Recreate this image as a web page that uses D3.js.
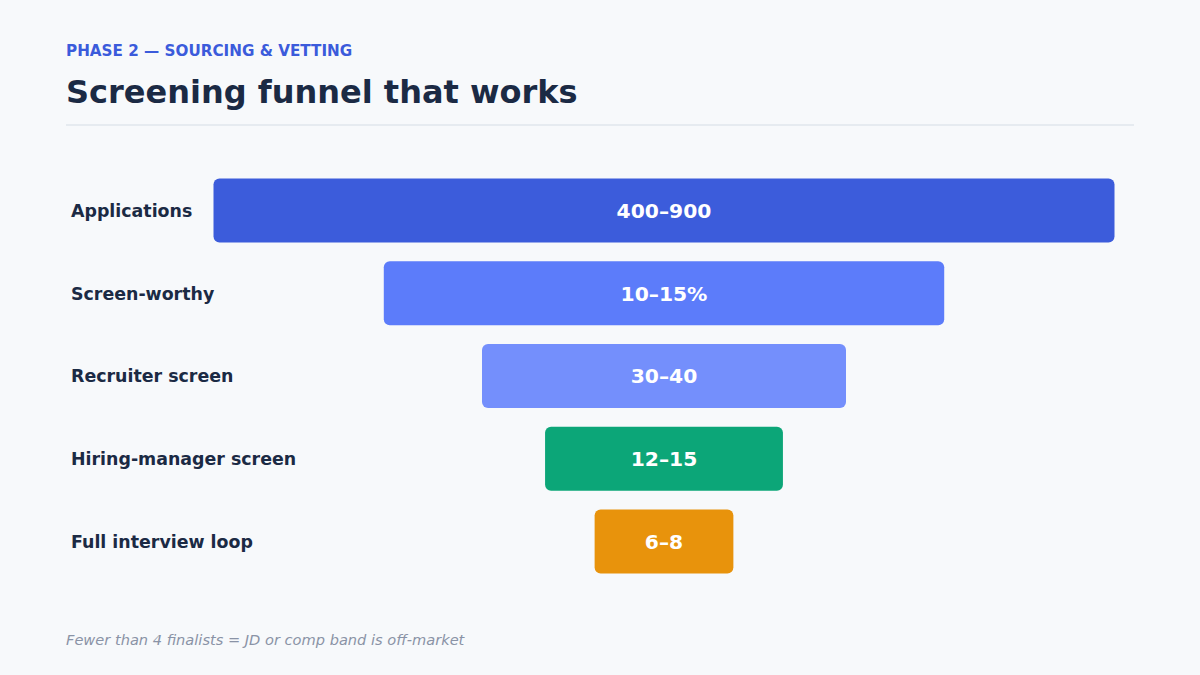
<!DOCTYPE html>
<html lang="en">
<head>
    <meta charset="utf-8">
    <title>Screening funnel that works</title>
    <script src="https://d3js.org/d3.v7.min.js"></script>
    <style>
        html, body { margin: 0; padding: 0; background: #f7f9fb; }
        svg { display: block; font-family: "DejaVu Sans", sans-serif; }
        .kicker { font-size: 15.2px; font-weight: bold; fill: #3b5bdb; }
        .title { font-size: 32px; font-weight: bold; fill: #1b2a44; }
        .stage { font-size: 17.4px; font-weight: bold; fill: #1b2a44; }
        .value { font-size: 20.3px; font-weight: bold; fill: #ffffff; text-anchor: middle; }
        .note { font-size: 14.6px; font-style: italic; fill: #8a93a6; }
    </style>
</head>
<body>
<div id="chart"></div>
<script>
    // Funnel stages, top to bottom
    var stages = ["Applications", "Screen-worthy", "Recruiter screen", "Hiring-manager screen", "Full interview loop"];
    // Displayed ranges on each bar
    var valueLabels = ["400–900", "10–15%", "30–40", "12–15", "6–8"];
    // Relative bar widths (widest = 100)
    var widths = [100, 62.2, 40.4, 26.4, 15.4];
    var colors = ["#3c5cdb", "#5c7cfa", "#748ffc", "#0ca678", "#e8930c"];

    var w = 1200, h = 675;

    var svg = d3.select("#chart").append("svg")
        .attr("width", w)
        .attr("height", h);

    svg.append("rect").attr("width", w).attr("height", h).attr("fill", "#f7f9fb");

    // Header
    svg.append("text").attr("class", "kicker").attr("x", 66).attr("y", 56)
        .text("PHASE 2 — SOURCING & VETTING");
    svg.append("text").attr("class", "title").attr("x", 66).attr("y", 103)
        .text("Screening funnel that works");
    svg.append("line")
        .attr("x1", 66).attr("x2", 1134).attr("y1", 125).attr("y2", 125)
        .attr("stroke", "#e1e6ec").attr("stroke-width", 1.5);

    // Scales: bars are centred on one axis
    var cx = 664;
    var x = d3.scaleLinear().domain([0, 100]).range([0, 901]);
    var y = d3.scaleBand().domain(stages).range([178.5, 573.5]).paddingInner(0.2266);

    var rows = svg.selectAll("g.row")
        .data(stages)
        .enter()
        .append("g")
        .attr("class", "row");

    rows.append("rect")
        .attr("x", function (d, i) { return cx - x(widths[i]) / 2; })
        .attr("y", function (d) { return y(d); })
        .attr("width", function (d, i) { return x(widths[i]); })
        .attr("height", y.bandwidth())
        .attr("rx", 6)
        .attr("fill", function (d, i) { return colors[i]; });

    rows.append("text")
        .attr("class", "value")
        .attr("x", cx)
        .attr("y", function (d) { return y(d) + y.bandwidth() / 2; })
        .attr("dy", "0.36em")
        .text(function (d, i) { return valueLabels[i]; });

    rows.append("text")
        .attr("class", "stage")
        .attr("x", 71)
        .attr("y", function (d) { return y(d) + y.bandwidth() / 2; })
        .attr("dy", "0.36em")
        .text(function (d) { return d; });

    // Footnote
    svg.append("text").attr("class", "note").attr("x", 66).attr("y", 645)
        .text("Fewer than 4 finalists = JD or comp band is off-market");
</script>
</body>
</html>
